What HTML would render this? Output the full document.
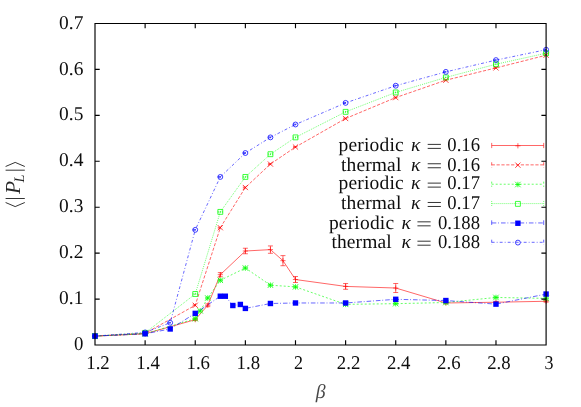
<!DOCTYPE html>
<html><head><meta charset="utf-8"><title>plot</title>
<style>
html,body{margin:0;padding:0;background:#fff;}
body{width:581px;height:407px;overflow:hidden;}
svg{display:block;}
text{font-family:"Liberation Serif",serif;fill:#000;text-rendering:geometricPrecision;opacity:0.94;filter:grayscale(1);}
.it{font-style:italic;}
</style></head><body>
<svg width="581" height="407" viewBox="0 0 581 407">
<rect width="581" height="407" fill="#fff"/>
<path d="M95 336.1L145.12 333.8L195.24 319.68L207.77 305.28L220.31 274.69L245.37 251L270.43 249.62L282.96 260.66L295.49 279.52L345.61 286.42L395.73 288.03L445.86 302.98L495.98 302.24L546.1 301.28" fill="none" stroke="#ff0000" stroke-width="0.6"/>
<path d="M95 335.87V336.33M92.5 335.87H97.5M92.5 336.33H97.5" fill="none" stroke="#ff0000" stroke-width="0.6"/>
<path d="M92.4 336.1H97.6M95 333.5V338.7" fill="none" stroke="#ff0000" stroke-width="0.6"/>
<path d="M145.12 333.57V334.03M142.62 333.57H147.62M142.62 334.03H147.62" fill="none" stroke="#ff0000" stroke-width="0.6"/>
<path d="M142.52 333.8H147.72M145.12 331.2V336.4" fill="none" stroke="#ff0000" stroke-width="0.6"/>
<path d="M195.24 318.76V320.6M192.74 318.76H197.74M192.74 320.6H197.74" fill="none" stroke="#ff0000" stroke-width="0.6"/>
<path d="M192.64 319.68H197.84M195.24 317.08V322.28" fill="none" stroke="#ff0000" stroke-width="0.6"/>
<path d="M207.77 303.9V306.66M205.27 303.9H210.27M205.27 306.66H210.27" fill="none" stroke="#ff0000" stroke-width="0.6"/>
<path d="M205.17 305.28H210.37M207.77 302.68V307.88" fill="none" stroke="#ff0000" stroke-width="0.6"/>
<path d="M220.31 272.62V276.76M217.81 272.62H222.81M217.81 276.76H222.81" fill="none" stroke="#ff0000" stroke-width="0.6"/>
<path d="M217.71 274.69H222.91M220.31 272.09V277.29" fill="none" stroke="#ff0000" stroke-width="0.6"/>
<path d="M245.37 248.24V253.76M242.87 248.24H247.87M242.87 253.76H247.87" fill="none" stroke="#ff0000" stroke-width="0.6"/>
<path d="M242.77 251H247.97M245.37 248.4V253.6" fill="none" stroke="#ff0000" stroke-width="0.6"/>
<path d="M270.43 245.95V253.29M267.93 245.95H272.93M267.93 253.29H272.93" fill="none" stroke="#ff0000" stroke-width="0.6"/>
<path d="M267.83 249.62H273.03M270.43 247.02V252.22" fill="none" stroke="#ff0000" stroke-width="0.6"/>
<path d="M282.96 255.61V265.71M280.46 255.61H285.46M280.46 265.71H285.46" fill="none" stroke="#ff0000" stroke-width="0.6"/>
<path d="M280.36 260.66H285.56M282.96 258.06V263.26" fill="none" stroke="#ff0000" stroke-width="0.6"/>
<path d="M295.49 276.53V282.51M292.99 276.53H297.99M292.99 282.51H297.99" fill="none" stroke="#ff0000" stroke-width="0.6"/>
<path d="M292.89 279.52H298.09M295.49 276.92V282.12" fill="none" stroke="#ff0000" stroke-width="0.6"/>
<path d="M345.61 283.53V289.31M343.11 283.53H348.11M343.11 289.31H348.11" fill="none" stroke="#ff0000" stroke-width="0.6"/>
<path d="M343.01 286.42H348.21M345.61 283.82V289.02" fill="none" stroke="#ff0000" stroke-width="0.6"/>
<path d="M395.73 283.53V292.53M393.23 283.53H398.23M393.23 292.53H398.23" fill="none" stroke="#ff0000" stroke-width="0.6"/>
<path d="M393.13 288.03H398.33M395.73 285.43V290.63" fill="none" stroke="#ff0000" stroke-width="0.6"/>
<path d="M445.86 302.06V303.9M443.36 302.06H448.36M443.36 303.9H448.36" fill="none" stroke="#ff0000" stroke-width="0.6"/>
<path d="M443.26 302.98H448.46M445.86 300.38V305.58" fill="none" stroke="#ff0000" stroke-width="0.6"/>
<path d="M495.98 301.33V303.16M493.48 301.33H498.48M493.48 303.16H498.48" fill="none" stroke="#ff0000" stroke-width="0.6"/>
<path d="M493.38 302.24H498.58M495.98 299.64V304.84" fill="none" stroke="#ff0000" stroke-width="0.6"/>
<path d="M546.1 300.36V302.2M543.6 300.36H548.6M543.6 302.2H548.6" fill="none" stroke="#ff0000" stroke-width="0.6"/>
<path d="M543.5 301.28H548.7M546.1 298.68V303.88" fill="none" stroke="#ff0000" stroke-width="0.6"/>
<path d="M95 336.1L145.12 333.34L195.24 305.28L220.31 227.72L245.37 187.52L270.43 164.06L295.49 147.04L345.61 118.52L395.73 97.59L445.86 80.2L495.98 67.92L546.1 55.22" fill="none" stroke="#ff0000" stroke-width="0.6" stroke-dasharray="3.2,1.65"/>
<path d="M95 336.1V336.1M92.5 336.1H97.5M92.5 336.1H97.5" fill="none" stroke="#ff0000" stroke-width="0.6" stroke-dasharray="3.2,1.65"/>
<path d="M92.4 333.5L97.6 338.7M92.4 338.7L97.6 333.5" fill="none" stroke="#ff0000" stroke-width="0.75"/>
<path d="M145.12 333.34V333.34M142.62 333.34H147.62M142.62 333.34H147.62" fill="none" stroke="#ff0000" stroke-width="0.6" stroke-dasharray="3.2,1.65"/>
<path d="M142.52 330.74L147.72 335.94M142.52 335.94L147.72 330.74" fill="none" stroke="#ff0000" stroke-width="0.75"/>
<path d="M195.24 304.82V305.74M192.74 304.82H197.74M192.74 305.74H197.74" fill="none" stroke="#ff0000" stroke-width="0.6" stroke-dasharray="3.2,1.65"/>
<path d="M192.64 302.68L197.84 307.88M192.64 307.88L197.84 302.68" fill="none" stroke="#ff0000" stroke-width="0.75"/>
<path d="M220.31 227.26V228.18M217.81 227.26H222.81M217.81 228.18H222.81" fill="none" stroke="#ff0000" stroke-width="0.6" stroke-dasharray="3.2,1.65"/>
<path d="M217.71 225.12L222.91 230.32M217.71 230.32L222.91 225.12" fill="none" stroke="#ff0000" stroke-width="0.75"/>
<path d="M245.37 187.06V187.98M242.87 187.06H247.87M242.87 187.98H247.87" fill="none" stroke="#ff0000" stroke-width="0.6" stroke-dasharray="3.2,1.65"/>
<path d="M242.77 184.92L247.97 190.12M242.77 190.12L247.97 184.92" fill="none" stroke="#ff0000" stroke-width="0.75"/>
<path d="M270.43 163.6V164.52M267.93 163.6H272.93M267.93 164.52H272.93" fill="none" stroke="#ff0000" stroke-width="0.6" stroke-dasharray="3.2,1.65"/>
<path d="M267.83 161.46L273.03 166.66M267.83 166.66L273.03 161.46" fill="none" stroke="#ff0000" stroke-width="0.75"/>
<path d="M295.49 146.58V147.5M292.99 146.58H297.99M292.99 147.5H297.99" fill="none" stroke="#ff0000" stroke-width="0.6" stroke-dasharray="3.2,1.65"/>
<path d="M292.89 144.44L298.09 149.64M292.89 149.64L298.09 144.44" fill="none" stroke="#ff0000" stroke-width="0.75"/>
<path d="M345.61 118.06V118.98M343.11 118.06H348.11M343.11 118.98H348.11" fill="none" stroke="#ff0000" stroke-width="0.6" stroke-dasharray="3.2,1.65"/>
<path d="M343.01 115.92L348.21 121.12M343.01 121.12L348.21 115.92" fill="none" stroke="#ff0000" stroke-width="0.75"/>
<path d="M395.73 97.13V98.05M393.23 97.13H398.23M393.23 98.05H398.23" fill="none" stroke="#ff0000" stroke-width="0.6" stroke-dasharray="3.2,1.65"/>
<path d="M393.13 94.99L398.33 100.19M393.13 100.19L398.33 94.99" fill="none" stroke="#ff0000" stroke-width="0.75"/>
<path d="M445.86 79.74V80.66M443.36 79.74H448.36M443.36 80.66H448.36" fill="none" stroke="#ff0000" stroke-width="0.6" stroke-dasharray="3.2,1.65"/>
<path d="M443.26 77.6L448.46 82.8M443.26 82.8L448.46 77.6" fill="none" stroke="#ff0000" stroke-width="0.75"/>
<path d="M495.98 67.46V68.38M493.48 67.46H498.48M493.48 68.38H498.48" fill="none" stroke="#ff0000" stroke-width="0.6" stroke-dasharray="3.2,1.65"/>
<path d="M493.38 65.32L498.58 70.52M493.38 70.52L498.58 65.32" fill="none" stroke="#ff0000" stroke-width="0.75"/>
<path d="M546.1 54.76V55.68M543.6 54.76H548.6M543.6 55.68H548.6" fill="none" stroke="#ff0000" stroke-width="0.6" stroke-dasharray="3.2,1.65"/>
<path d="M543.5 52.62L548.7 57.82M543.5 57.82L548.7 52.62" fill="none" stroke="#ff0000" stroke-width="0.75"/>
<path d="M95 336.1L145.12 333.8L195.24 318.71L200.26 310.89L207.77 298.01L220.31 280.3L245.37 268.02L270.43 285.18L295.49 286.88L345.61 304.36L395.73 303.67L445.86 302.52L495.98 297.46L546.1 298.38" fill="none" stroke="#00ff00" stroke-width="0.6" stroke-dasharray="2,2"/>
<path d="M95 336.1V336.1M92.5 336.1H97.5M92.5 336.1H97.5" fill="none" stroke="#00ff00" stroke-width="0.6" stroke-dasharray="2,2"/>
<path d="M92.25 336.1H97.75M95 333.35V338.85M92.25 333.35L97.75 338.85M92.25 338.85L97.75 333.35" fill="none" stroke="#00ff00" stroke-width="0.75"/>
<path d="M145.12 333.8V333.8M142.62 333.8H147.62M142.62 333.8H147.62" fill="none" stroke="#00ff00" stroke-width="0.6" stroke-dasharray="2,2"/>
<path d="M142.37 333.8H147.87M145.12 331.05V336.55M142.37 331.05L147.87 336.55M142.37 336.55L147.87 331.05" fill="none" stroke="#00ff00" stroke-width="0.75"/>
<path d="M195.24 317.79V319.63M192.74 317.79H197.74M192.74 319.63H197.74" fill="none" stroke="#00ff00" stroke-width="0.6" stroke-dasharray="2,2"/>
<path d="M192.49 318.71H197.99M195.24 315.96V321.46M192.49 315.96L197.99 321.46M192.49 321.46L197.99 315.96" fill="none" stroke="#00ff00" stroke-width="0.75"/>
<path d="M200.26 309.97V311.81M197.76 309.97H202.76M197.76 311.81H202.76" fill="none" stroke="#00ff00" stroke-width="0.6" stroke-dasharray="2,2"/>
<path d="M197.51 310.89H203.01M200.26 308.14V313.64M197.51 308.14L203.01 313.64M197.51 313.64L203.01 308.14" fill="none" stroke="#00ff00" stroke-width="0.75"/>
<path d="M207.77 297.09V298.93M205.27 297.09H210.27M205.27 298.93H210.27" fill="none" stroke="#00ff00" stroke-width="0.6" stroke-dasharray="2,2"/>
<path d="M205.02 298.01H210.52M207.77 295.26V300.76M205.02 295.26L210.52 300.76M205.02 300.76L210.52 295.26" fill="none" stroke="#00ff00" stroke-width="0.75"/>
<path d="M220.31 279.38V281.22M217.81 279.38H222.81M217.81 281.22H222.81" fill="none" stroke="#00ff00" stroke-width="0.6" stroke-dasharray="2,2"/>
<path d="M217.56 280.3H223.06M220.31 277.55V283.05M217.56 277.55L223.06 283.05M217.56 283.05L223.06 277.55" fill="none" stroke="#00ff00" stroke-width="0.75"/>
<path d="M245.37 267.1V268.94M242.87 267.1H247.87M242.87 268.94H247.87" fill="none" stroke="#00ff00" stroke-width="0.6" stroke-dasharray="2,2"/>
<path d="M242.62 268.02H248.12M245.37 265.27V270.77M242.62 265.27L248.12 270.77M242.62 270.77L248.12 265.27" fill="none" stroke="#00ff00" stroke-width="0.75"/>
<path d="M270.43 284.26V286.1M267.93 284.26H272.93M267.93 286.1H272.93" fill="none" stroke="#00ff00" stroke-width="0.6" stroke-dasharray="2,2"/>
<path d="M267.68 285.18H273.18M270.43 282.43V287.93M267.68 282.43L273.18 287.93M267.68 287.93L273.18 282.43" fill="none" stroke="#00ff00" stroke-width="0.75"/>
<path d="M295.49 285.96V287.8M292.99 285.96H297.99M292.99 287.8H297.99" fill="none" stroke="#00ff00" stroke-width="0.6" stroke-dasharray="2,2"/>
<path d="M292.74 286.88H298.24M295.49 284.13V289.63M292.74 284.13L298.24 289.63M292.74 289.63L298.24 284.13" fill="none" stroke="#00ff00" stroke-width="0.75"/>
<path d="M345.61 303.44V305.28M343.11 303.44H348.11M343.11 305.28H348.11" fill="none" stroke="#00ff00" stroke-width="0.6" stroke-dasharray="2,2"/>
<path d="M342.86 304.36H348.36M345.61 301.61V307.11M342.86 301.61L348.36 307.11M342.86 307.11L348.36 301.61" fill="none" stroke="#00ff00" stroke-width="0.75"/>
<path d="M395.73 302.75V304.59M393.23 302.75H398.23M393.23 304.59H398.23" fill="none" stroke="#00ff00" stroke-width="0.6" stroke-dasharray="2,2"/>
<path d="M392.98 303.67H398.48M395.73 300.92V306.42M392.98 300.92L398.48 306.42M392.98 306.42L398.48 300.92" fill="none" stroke="#00ff00" stroke-width="0.75"/>
<path d="M445.86 301.6V303.44M443.36 301.6H448.36M443.36 303.44H448.36" fill="none" stroke="#00ff00" stroke-width="0.6" stroke-dasharray="2,2"/>
<path d="M443.11 302.52H448.61M445.86 299.77V305.27M443.11 299.77L448.61 305.27M443.11 305.27L448.61 299.77" fill="none" stroke="#00ff00" stroke-width="0.75"/>
<path d="M495.98 296.54V298.38M493.48 296.54H498.48M493.48 298.38H498.48" fill="none" stroke="#00ff00" stroke-width="0.6" stroke-dasharray="2,2"/>
<path d="M493.23 297.46H498.73M495.98 294.71V300.21M493.23 294.71L498.73 300.21M493.23 300.21L498.73 294.71" fill="none" stroke="#00ff00" stroke-width="0.75"/>
<path d="M546.1 297.46V299.3M543.6 297.46H548.6M543.6 299.3H548.6" fill="none" stroke="#00ff00" stroke-width="0.6" stroke-dasharray="2,2"/>
<path d="M543.35 298.38H548.85M546.1 295.63V301.13M543.35 295.63L548.85 301.13M543.35 301.13L548.85 295.63" fill="none" stroke="#00ff00" stroke-width="0.75"/>
<path d="M95 336.1L145.12 332.88L195.24 294.01L220.31 211.9L245.37 176.94L270.43 154.22L295.49 137.38L345.61 111.85L395.73 92.44L445.86 77.4L495.98 64.24L546.1 53.2" fill="none" stroke="#00ff00" stroke-width="0.6" stroke-dasharray="0.9,1.1"/>
<path d="M95 336.1V336.1M92.5 336.1H97.5M92.5 336.1H97.5" fill="none" stroke="#00ff00" stroke-width="0.6" stroke-dasharray="0.9,1.1"/>
<path d="M92.55 333.65H97.45V338.55H92.55Z" fill="none" stroke="#00ff00" stroke-width="0.75"/>
<path d="M145.12 332.88V332.88M142.62 332.88H147.62M142.62 332.88H147.62" fill="none" stroke="#00ff00" stroke-width="0.6" stroke-dasharray="0.9,1.1"/>
<path d="M142.67 330.43H147.57V335.33H142.67Z" fill="none" stroke="#00ff00" stroke-width="0.75"/>
<path d="M195.24 293.55V294.47M192.74 293.55H197.74M192.74 294.47H197.74" fill="none" stroke="#00ff00" stroke-width="0.6" stroke-dasharray="0.9,1.1"/>
<path d="M192.79 291.56H197.69V296.46H192.79Z" fill="none" stroke="#00ff00" stroke-width="0.75"/>
<path d="M220.31 211.44V212.36M217.81 211.44H222.81M217.81 212.36H222.81" fill="none" stroke="#00ff00" stroke-width="0.6" stroke-dasharray="0.9,1.1"/>
<path d="M217.86 209.45H222.76V214.35H217.86Z" fill="none" stroke="#00ff00" stroke-width="0.75"/>
<path d="M245.37 176.48V177.4M242.87 176.48H247.87M242.87 177.4H247.87" fill="none" stroke="#00ff00" stroke-width="0.6" stroke-dasharray="0.9,1.1"/>
<path d="M242.92 174.49H247.82V179.39H242.92Z" fill="none" stroke="#00ff00" stroke-width="0.75"/>
<path d="M270.43 153.76V154.68M267.93 153.76H272.93M267.93 154.68H272.93" fill="none" stroke="#00ff00" stroke-width="0.6" stroke-dasharray="0.9,1.1"/>
<path d="M267.98 151.77H272.88V156.67H267.98Z" fill="none" stroke="#00ff00" stroke-width="0.75"/>
<path d="M295.49 136.92V137.84M292.99 136.92H297.99M292.99 137.84H297.99" fill="none" stroke="#00ff00" stroke-width="0.6" stroke-dasharray="0.9,1.1"/>
<path d="M293.04 134.93H297.94V139.83H293.04Z" fill="none" stroke="#00ff00" stroke-width="0.75"/>
<path d="M345.61 111.39V112.31M343.11 111.39H348.11M343.11 112.31H348.11" fill="none" stroke="#00ff00" stroke-width="0.6" stroke-dasharray="0.9,1.1"/>
<path d="M343.16 109.4H348.06V114.3H343.16Z" fill="none" stroke="#00ff00" stroke-width="0.75"/>
<path d="M395.73 91.98V92.9M393.23 91.98H398.23M393.23 92.9H398.23" fill="none" stroke="#00ff00" stroke-width="0.6" stroke-dasharray="0.9,1.1"/>
<path d="M393.28 89.99H398.18V94.89H393.28Z" fill="none" stroke="#00ff00" stroke-width="0.75"/>
<path d="M445.86 76.94V77.86M443.36 76.94H448.36M443.36 77.86H448.36" fill="none" stroke="#00ff00" stroke-width="0.6" stroke-dasharray="0.9,1.1"/>
<path d="M443.41 74.95H448.31V79.85H443.41Z" fill="none" stroke="#00ff00" stroke-width="0.75"/>
<path d="M495.98 63.78V64.7M493.48 63.78H498.48M493.48 64.7H498.48" fill="none" stroke="#00ff00" stroke-width="0.6" stroke-dasharray="0.9,1.1"/>
<path d="M493.53 61.79H498.43V66.69H493.53Z" fill="none" stroke="#00ff00" stroke-width="0.75"/>
<path d="M546.1 52.74V53.66M543.6 52.74H548.6M543.6 53.66H548.6" fill="none" stroke="#00ff00" stroke-width="0.6" stroke-dasharray="0.9,1.1"/>
<path d="M543.65 50.75H548.55V55.65H543.65Z" fill="none" stroke="#00ff00" stroke-width="0.75"/>
<path d="M95 336.1L145.12 333.8L170.18 328.97L195.24 313.38L220.31 296.22L225.32 296.22L232.84 305.51L240.35 304.45L245.37 308.41L270.43 303.49L295.49 302.98L345.61 302.98L395.73 299.3L445.86 300.54L495.98 304.13L546.1 294.06" fill="none" stroke="#0000ff" stroke-width="0.6" stroke-dasharray="4.6,1.8,0.9,2.0"/>
<rect x="92.3" y="333.4" width="5.4" height="5.4" fill="#0000ff"/>
<rect x="142.42" y="331.1" width="5.4" height="5.4" fill="#0000ff"/>
<rect x="167.48" y="326.27" width="5.4" height="5.4" fill="#0000ff"/>
<rect x="192.54" y="310.68" width="5.4" height="5.4" fill="#0000ff"/>
<rect x="217.61" y="293.52" width="5.4" height="5.4" fill="#0000ff"/>
<rect x="222.62" y="293.52" width="5.4" height="5.4" fill="#0000ff"/>
<rect x="230.14" y="302.81" width="5.4" height="5.4" fill="#0000ff"/>
<rect x="237.65" y="301.75" width="5.4" height="5.4" fill="#0000ff"/>
<rect x="242.67" y="305.71" width="5.4" height="5.4" fill="#0000ff"/>
<rect x="267.73" y="300.79" width="5.4" height="5.4" fill="#0000ff"/>
<rect x="292.79" y="300.28" width="5.4" height="5.4" fill="#0000ff"/>
<rect x="342.91" y="300.28" width="5.4" height="5.4" fill="#0000ff"/>
<rect x="393.03" y="296.6" width="5.4" height="5.4" fill="#0000ff"/>
<rect x="443.16" y="297.84" width="5.4" height="5.4" fill="#0000ff"/>
<rect x="493.28" y="301.43" width="5.4" height="5.4" fill="#0000ff"/>
<rect x="543.4" y="291.36" width="5.4" height="5.4" fill="#0000ff"/>
<path d="M95 336.1L145.12 332.42L170.18 322.76L195.24 229.84L220.31 176.94L245.37 153.02L270.43 137.38L295.49 124.5L345.61 102.88L395.73 85.72L445.86 71.88L495.98 60.1L546.1 49.7" fill="none" stroke="#0000ff" stroke-width="0.6" stroke-dasharray="2.9,2.1,0.9,2.1"/>
<path d="M95 336.1V336.1M92.5 336.1H97.5M92.5 336.1H97.5" fill="none" stroke="#0000ff" stroke-width="0.6" stroke-dasharray="2.9,2.1,0.9,2.1"/>
<circle cx="95" cy="336.1" r="2.45" fill="none" stroke="#0000ff" stroke-width="0.75"/>
<path d="M145.12 332.42V332.42M142.62 332.42H147.62M142.62 332.42H147.62" fill="none" stroke="#0000ff" stroke-width="0.6" stroke-dasharray="2.9,2.1,0.9,2.1"/>
<circle cx="145.12" cy="332.42" r="2.45" fill="none" stroke="#0000ff" stroke-width="0.75"/>
<path d="M170.18 322.3V323.22M167.68 322.3H172.68M167.68 323.22H172.68" fill="none" stroke="#0000ff" stroke-width="0.6" stroke-dasharray="2.9,2.1,0.9,2.1"/>
<circle cx="170.18" cy="322.76" r="2.45" fill="none" stroke="#0000ff" stroke-width="0.75"/>
<path d="M195.24 229.38V230.3M192.74 229.38H197.74M192.74 230.3H197.74" fill="none" stroke="#0000ff" stroke-width="0.6" stroke-dasharray="2.9,2.1,0.9,2.1"/>
<circle cx="195.24" cy="229.84" r="2.45" fill="none" stroke="#0000ff" stroke-width="0.75"/>
<path d="M220.31 176.48V177.4M217.81 176.48H222.81M217.81 177.4H222.81" fill="none" stroke="#0000ff" stroke-width="0.6" stroke-dasharray="2.9,2.1,0.9,2.1"/>
<circle cx="220.31" cy="176.94" r="2.45" fill="none" stroke="#0000ff" stroke-width="0.75"/>
<path d="M245.37 152.56V153.48M242.87 152.56H247.87M242.87 153.48H247.87" fill="none" stroke="#0000ff" stroke-width="0.6" stroke-dasharray="2.9,2.1,0.9,2.1"/>
<circle cx="245.37" cy="153.02" r="2.45" fill="none" stroke="#0000ff" stroke-width="0.75"/>
<path d="M270.43 136.92V137.84M267.93 136.92H272.93M267.93 137.84H272.93" fill="none" stroke="#0000ff" stroke-width="0.6" stroke-dasharray="2.9,2.1,0.9,2.1"/>
<circle cx="270.43" cy="137.38" r="2.45" fill="none" stroke="#0000ff" stroke-width="0.75"/>
<path d="M295.49 124.04V124.96M292.99 124.04H297.99M292.99 124.96H297.99" fill="none" stroke="#0000ff" stroke-width="0.6" stroke-dasharray="2.9,2.1,0.9,2.1"/>
<circle cx="295.49" cy="124.5" r="2.45" fill="none" stroke="#0000ff" stroke-width="0.75"/>
<path d="M345.61 102.42V103.34M343.11 102.42H348.11M343.11 103.34H348.11" fill="none" stroke="#0000ff" stroke-width="0.6" stroke-dasharray="2.9,2.1,0.9,2.1"/>
<circle cx="345.61" cy="102.88" r="2.45" fill="none" stroke="#0000ff" stroke-width="0.75"/>
<path d="M395.73 85.26V86.18M393.23 85.26H398.23M393.23 86.18H398.23" fill="none" stroke="#0000ff" stroke-width="0.6" stroke-dasharray="2.9,2.1,0.9,2.1"/>
<circle cx="395.73" cy="85.72" r="2.45" fill="none" stroke="#0000ff" stroke-width="0.75"/>
<path d="M445.86 71.42V72.34M443.36 71.42H448.36M443.36 72.34H448.36" fill="none" stroke="#0000ff" stroke-width="0.6" stroke-dasharray="2.9,2.1,0.9,2.1"/>
<circle cx="445.86" cy="71.88" r="2.45" fill="none" stroke="#0000ff" stroke-width="0.75"/>
<path d="M495.98 59.64V60.56M493.48 59.64H498.48M493.48 60.56H498.48" fill="none" stroke="#0000ff" stroke-width="0.6" stroke-dasharray="2.9,2.1,0.9,2.1"/>
<circle cx="495.98" cy="60.1" r="2.45" fill="none" stroke="#0000ff" stroke-width="0.75"/>
<path d="M546.1 49.24V50.16M543.6 49.24H548.6M543.6 50.16H548.6" fill="none" stroke="#0000ff" stroke-width="0.6" stroke-dasharray="2.9,2.1,0.9,2.1"/>
<circle cx="546.1" cy="49.7" r="2.45" fill="none" stroke="#0000ff" stroke-width="0.75"/>
<path d="M491.7 145.5H543.7" fill="none" stroke="#ff0000" stroke-width="0.6"/>
<path d="M491.7 142.9V148.1M543.7 142.9V148.1" fill="none" stroke="#ff0000" stroke-width="0.6"/>
<path d="M515.3 145.8H520.5M517.9 143.2V148.4" fill="none" stroke="#ff0000" stroke-width="0.6"/>
<text x="338.5" y="151" font-size="19.5" textLength="65.2" lengthAdjust="spacing">periodic</text>
<text class="it" x="411" y="151" font-size="19.5">κ</text>
<path d="M427.7 144.4H440.9M427.7 148.4H440.9" fill="none" stroke="#000" stroke-width="0.8"/>
<text x="447.3" y="151" font-size="19.5" textLength="32.7" lengthAdjust="spacingAndGlyphs">0.16</text>
<path d="M491.7 164.86H543.7" fill="none" stroke="#ff0000" stroke-width="0.6" stroke-dasharray="3.2,1.65"/>
<path d="M491.7 162.26V167.46M543.7 162.26V167.46" fill="none" stroke="#ff0000" stroke-width="0.6" stroke-dasharray="3.2,1.65"/>
<path d="M515.3 162.56L520.5 167.76M515.3 167.76L520.5 162.56" fill="none" stroke="#ff0000" stroke-width="0.75"/>
<text x="341" y="170.5" font-size="19.5" textLength="60.3" lengthAdjust="spacing">thermal</text>
<text class="it" x="411" y="170.5" font-size="19.5">κ</text>
<path d="M427.7 163.76H440.9M427.7 167.76H440.9" fill="none" stroke="#000" stroke-width="0.8"/>
<text x="447.3" y="170.5" font-size="19.5" textLength="32.7" lengthAdjust="spacingAndGlyphs">0.16</text>
<path d="M491.7 184.22H543.7" fill="none" stroke="#00ff00" stroke-width="0.6" stroke-dasharray="2,2"/>
<path d="M491.7 181.62V186.82M543.7 181.62V186.82" fill="none" stroke="#00ff00" stroke-width="0.6" stroke-dasharray="2,2"/>
<path d="M515.15 184.52H520.65M517.9 181.77V187.27M515.15 181.77L520.65 187.27M515.15 187.27L520.65 181.77" fill="none" stroke="#00ff00" stroke-width="0.75"/>
<text x="338.5" y="189.4" font-size="19.5" textLength="65.2" lengthAdjust="spacing">periodic</text>
<text class="it" x="411" y="189.4" font-size="19.5">κ</text>
<path d="M427.7 183.12H440.9M427.7 187.12H440.9" fill="none" stroke="#000" stroke-width="0.8"/>
<text x="447.3" y="189.4" font-size="19.5" textLength="32.7" lengthAdjust="spacingAndGlyphs">0.17</text>
<path d="M491.7 203.57999999999998H543.7" fill="none" stroke="#00ff00" stroke-width="0.6" stroke-dasharray="0.9,1.1"/>
<path d="M491.7 200.98V206.18M543.7 200.98V206.18" fill="none" stroke="#00ff00" stroke-width="0.6" stroke-dasharray="0.9,1.1"/>
<path d="M515.45 201.43H520.35V206.33H515.45Z" fill="none" stroke="#00ff00" stroke-width="0.75"/>
<text x="341" y="209.2" font-size="19.5" textLength="60.3" lengthAdjust="spacing">thermal</text>
<text class="it" x="411" y="209.2" font-size="19.5">κ</text>
<path d="M427.7 202.48H440.9M427.7 206.48H440.9" fill="none" stroke="#000" stroke-width="0.8"/>
<text x="447.3" y="209.2" font-size="19.5" textLength="32.7" lengthAdjust="spacingAndGlyphs">0.17</text>
<path d="M491.7 222.94H543.7" fill="none" stroke="#0000ff" stroke-width="0.6" stroke-dasharray="4.6,1.8,0.9,2.0"/>
<path d="M491.7 220.34V225.54M543.7 220.34V225.54" fill="none" stroke="#0000ff" stroke-width="0.6" stroke-dasharray="4.6,1.8,0.9,2.0"/>
<rect x="515.2" y="220.54" width="5.4" height="5.4" fill="#0000ff"/>
<text x="328.9" y="228.7" font-size="19.5" textLength="65.2" lengthAdjust="spacing">periodic</text>
<text class="it" x="401.4" y="228.7" font-size="19.5">κ</text>
<path d="M417.43 221.84H430.63M417.43 225.84H430.63" fill="none" stroke="#000" stroke-width="0.8"/>
<text x="437.9" y="228.7" font-size="19.5" textLength="42.1" lengthAdjust="spacingAndGlyphs">0.188</text>
<path d="M491.7 242.3H543.7" fill="none" stroke="#0000ff" stroke-width="0.6" stroke-dasharray="2.9,2.1,0.9,2.1"/>
<path d="M491.7 239.7V244.9M543.7 239.7V244.9" fill="none" stroke="#0000ff" stroke-width="0.6" stroke-dasharray="2.9,2.1,0.9,2.1"/>
<circle cx="517.9" cy="242.6" r="2.45" fill="none" stroke="#0000ff" stroke-width="0.75"/>
<text x="331.4" y="247.6" font-size="19.5" textLength="60.3" lengthAdjust="spacing">thermal</text>
<text class="it" x="401.4" y="247.6" font-size="19.5">κ</text>
<path d="M417.43 241.2H430.63M417.43 245.2H430.63" fill="none" stroke="#000" stroke-width="0.8"/>
<text x="437.9" y="247.6" font-size="19.5" textLength="42.1" lengthAdjust="spacingAndGlyphs">0.188</text>
<path d="M95.0 23.5H546.1V345.0H95.0ZM95 345.0V340.3M95 23.5V28.2M145.12 345.0V340.3M145.12 23.5V28.2M195.24 345.0V340.3M195.24 23.5V28.2M245.37 345.0V340.3M245.37 23.5V28.2M295.49 345.0V340.3M295.49 23.5V28.2M345.61 345.0V340.3M345.61 23.5V28.2M395.73 345.0V340.3M395.73 23.5V28.2M445.86 345.0V340.3M445.86 23.5V28.2M495.98 345.0V340.3M495.98 23.5V28.2M546.1 345.0V340.3M546.1 23.5V28.2M95.0 345H99.7M546.1 345H541.4M95.0 299.07H99.7M546.1 299.07H541.4M95.0 253.14H99.7M546.1 253.14H541.4M95.0 207.21H99.7M546.1 207.21H541.4M95.0 161.29H99.7M546.1 161.29H541.4M95.0 115.36H99.7M546.1 115.36H541.4M95.0 69.43H99.7M546.1 69.43H541.4M95.0 23.5H99.7M546.1 23.5H541.4" fill="none" stroke="#000" stroke-width="1.15"/>
<text x="74" y="350.1" font-size="19.5" textLength="9.4" lengthAdjust="spacingAndGlyphs">0</text>
<text x="59.1" y="304.17" font-size="19.5" textLength="24.3" lengthAdjust="spacingAndGlyphs">0.1</text>
<text x="59.1" y="258.24" font-size="19.5" textLength="24.3" lengthAdjust="spacingAndGlyphs">0.2</text>
<text x="59.1" y="212.31" font-size="19.5" textLength="24.3" lengthAdjust="spacingAndGlyphs">0.3</text>
<text x="59.1" y="166.39" font-size="19.5" textLength="24.3" lengthAdjust="spacingAndGlyphs">0.4</text>
<text x="59.1" y="120.46" font-size="19.5" textLength="24.3" lengthAdjust="spacingAndGlyphs">0.5</text>
<text x="59.1" y="74.53" font-size="19.5" textLength="24.3" lengthAdjust="spacingAndGlyphs">0.6</text>
<text x="59.1" y="28.6" font-size="19.5" textLength="24.3" lengthAdjust="spacingAndGlyphs">0.7</text>
<text x="86.25" y="368.9" font-size="19.5" textLength="23.5" lengthAdjust="spacingAndGlyphs">1.2</text>
<text x="136.37" y="368.9" font-size="19.5" textLength="23.5" lengthAdjust="spacingAndGlyphs">1.4</text>
<text x="186.49" y="368.9" font-size="19.5" textLength="23.5" lengthAdjust="spacingAndGlyphs">1.6</text>
<text x="236.62" y="368.9" font-size="19.5" textLength="23.5" lengthAdjust="spacingAndGlyphs">1.8</text>
<text x="293.99" y="368.9" font-size="19.5" textLength="9.0" lengthAdjust="spacingAndGlyphs">2</text>
<text x="336.86" y="368.9" font-size="19.5" textLength="23.5" lengthAdjust="spacingAndGlyphs">2.2</text>
<text x="386.98" y="368.9" font-size="19.5" textLength="23.5" lengthAdjust="spacingAndGlyphs">2.4</text>
<text x="437.11" y="368.9" font-size="19.5" textLength="23.5" lengthAdjust="spacingAndGlyphs">2.6</text>
<text x="487.23" y="368.9" font-size="19.5" textLength="23.5" lengthAdjust="spacingAndGlyphs">2.8</text>
<text x="544.6" y="368.9" font-size="19.5" textLength="9.0" lengthAdjust="spacingAndGlyphs">3</text>
<text class="it" x="315.8" y="397.5" font-size="19.8" style="opacity:0.72">β</text>
<g transform="translate(20 207) rotate(-90)">
<path d="M4.5 -14.4L0.4 -4.8L4.5 4.8M8.5 -14.4V4.8M36.8 -14.4V4.8M40.5 -14.4L44.6 -4.8L40.5 4.8" fill="none" stroke="#000" stroke-width="0.8"/>
<text class="it" x="12.9" y="0" font-size="21.4" style="opacity:0.85">P</text>
<text class="it" x="24.6" y="3.6" font-size="14.5" style="opacity:0.85">L</text>
</g>
</svg></body></html>
